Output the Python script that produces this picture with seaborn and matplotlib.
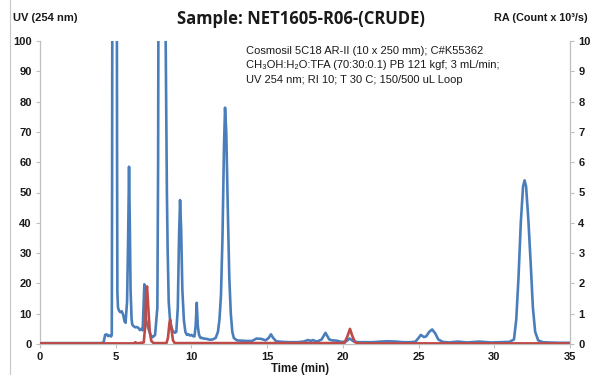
import numpy as np
import pandas as pd
import seaborn as sns
import matplotlib
matplotlib.use("Agg")
import matplotlib.pyplot as plt
from matplotlib.lines import Line2D

# ---- data ----
uv_time = [0, 1, 2, 3, 4.0, 4.2, 4.3, 4.4, 4.5, 4.6, 4.7, 4.74, 4.76, 4.78, 4.93, 5.07, 5.09, 5.11,
           5.15, 5.22, 5.3, 5.4, 5.5, 5.58, 5.65, 5.75, 5.82, 5.88, 5.93, 5.98, 6.05, 6.1, 6.2, 6.3,
           6.4, 6.5, 6.6, 6.7, 6.78, 6.85, 6.89, 6.95, 7.0, 7.1, 7.2, 7.3, 7.4, 7.5, 7.6, 7.7, 7.75,
           7.8, 7.83, 8.0, 8.2, 8.3, 8.38, 8.43, 8.5, 8.6, 8.75, 8.9, 9.0, 9.1, 9.18, 9.25, 9.32, 9.4,
           9.5, 9.6, 9.7, 9.8, 9.9, 10.0, 10.1, 10.2, 10.28, 10.35, 10.42, 10.5, 10.6, 10.7, 10.8,
           11.0, 11.2, 11.4, 11.6, 11.75, 11.85, 11.95, 12.05, 12.15, 12.22, 12.3, 12.4, 12.5, 12.6,
           12.7, 12.8, 13.0, 13.3, 13.6, 14.0, 14.3, 14.6, 14.9, 15.1, 15.25, 15.4, 15.6, 16.0, 16.5,
           17.0, 17.4, 17.7, 17.9, 18.0, 18.3, 18.6, 18.85, 19.1, 19.3, 19.6, 19.9, 20.2, 20.45, 20.7,
           21.0, 21.5, 22.0, 22.5, 23.0, 23.5, 24.0, 24.5, 24.8, 25.0, 25.15, 25.35, 25.5, 25.7, 25.9,
           26.1, 26.3, 26.6, 27.0, 27.6, 28.2, 29.0, 29.8, 30.5, 31.0, 31.3, 31.45, 31.6, 31.75, 31.9,
           32.0, 32.1, 32.25, 32.4, 32.55, 32.7, 32.9, 33.2, 33.6, 34.2, 35.0]
uv_value = [0.3, 0.3, 0.3, 0.3, 0.3, 0.5, 3.0, 3.2, 2.6, 2.8, 2.5, 3.0, 50, 130, 250, 130, 60, 17,
            12, 11, 10.5, 10.8, 9.5, 7.5, 7.0, 14, 35, 58.5, 40, 18, 8, 6.3, 5.8, 5.5,
            5.6, 5.3, 4.6, 5.0, 4.5, 14, 19.7, 14, 8, 6, 4.5, 3, 2.2, 2.5, 3, 9, 12,
            60, 130, 250, 160, 100, 50, 31, 14, 7, 4.5, 3.7, 4, 12, 35, 47.5, 38, 18,
            8, 4, 3, 3.2, 2.8, 3.0, 2.6, 2.5, 6, 13.6, 6, 3, 2, 2, 1.8,
            1.7, 1.4, 1.5, 2, 4, 8, 16, 35, 65, 78, 70, 45, 22, 10,
            4, 2, 1.2, 1.1, 1.0, 1.0, 1.8, 1.7, 1.2, 2.0, 3.2, 2.0, 0.9, 0.7, 0.6,
            0.6, 0.8, 1.3, 1.0, 1.3, 0.8, 1.5, 3.7, 1.5, 1.2, 1.1, 0.7, 0.8, 1.8, 0.9,
            0.6, 0.6, 0.6, 0.8, 0.9, 0.8, 0.6, 0.6, 0.8, 2.0, 3.0, 2.3, 2.5, 4.0, 4.8,
            3.5, 1.5, 0.7, 0.5, 0.8, 0.5, 0.8, 0.5, 0.6, 0.7, 1.5, 8, 22, 40, 52,
            54, 52, 41, 27, 12, 4, 1.2, 0.6, 0.5, 0.4, 0.4]

ra_time = [0, 6.2, 6.3, 6.4, 6.85, 6.95, 7.02, 7.07, 7.15, 7.25, 7.35, 7.5, 8.35, 8.45, 8.55,
           8.6, 8.68, 8.78, 8.9, 20.1, 20.3, 20.47, 20.6, 20.8, 21.0, 35.0]
ra_value = [0.02, 0.02, 0.06, 0.02, 0.05, 0.6, 1.8, 1.9, 1.2, 0.4, 0.1, 0.03, 0.03, 0.2, 0.7,
            0.8, 0.5, 0.12, 0.03, 0.03, 0.25, 0.5, 0.3, 0.06, 0.02, 0.02]

x_ticks = [0, 5, 10, 15, 20, 25, 30, 35]
left_ticks = [0, 10, 20, 30, 40, 50, 60, 70, 80, 90, 100]
right_ticks = [0, 1, 2, 3, 4, 5, 6, 7, 8, 9, 10]

title = "Sample: NET1605-R06-(CRUDE)"
left_label = "UV (254 nm)"
right_label = "RA (Count x 10³/s)"
x_label = "Time (min)"
notes = ["Cosmosil 5C18 AR-II (10 x 250 mm); C#K55362",
         "CH₃OH:H₂O:TFA (70:30:0.1) PB 121 kgf; 3 mL/min;",
         "UV 254 nm; RI 10; T 30 C; 150/500 uL Loop"]

# ---- style ----
sns.set_style("white")
plt.rcParams["font.family"] = ["Liberation Sans", "DejaVu Sans"]

BLUE = "#4A7EBB"
RED = "#BE4B48"
GRAY = "#BFBFBF"
TXT = "#1a1a1a"

W, H = 594, 375
fig = plt.figure(figsize=(W / 100, H / 100), dpi=100)
ax = fig.add_axes([40 / W, 1 - 344 / H, 530 / W, 303 / H])

uv_df = pd.DataFrame({"time": uv_time, "value": uv_value})
ra_df = pd.DataFrame({"time": ra_time, "value": ra_value})

sns.lineplot(data=uv_df, x="time", y="value", ax=ax, color=BLUE, linewidth=1.9,
             sort=False, estimator=None)
ax.set_xlim(0, 35)
ax.set_ylim(0, 100)
ax.set_xticks(x_ticks)
ax.set_yticks(left_ticks)
ax.set_xlabel("")
ax.set_ylabel("")

ax2 = ax.twinx()
sns.lineplot(data=ra_df, x="time", y="value", ax=ax2, color=RED, linewidth=1.9,
             sort=False, estimator=None)
ax2.set_ylim(0, 10)
ax2.set_yticks(right_ticks)
ax2.set_ylabel("")
ax2.set_xlim(0, 35)

for a in (ax, ax2):
    for s in a.spines.values():
        s.set_color(GRAY)
        s.set_linewidth(0.9)
    a.spines["top"].set_visible(False)
    a.tick_params(length=3, width=0.8, color=GRAY, labelsize=8, labelcolor=TXT, pad=3)
    for lab in a.get_xticklabels() + a.get_yticklabels():
        lab.set_fontweight("bold")
ax.spines["right"].set_visible(False)
ax2.spines["left"].set_visible(False)
ax2.spines["bottom"].set_visible(False)
ax.tick_params(axis="x", bottom=True, direction="out")
ax.tick_params(axis="y", left=True, direction="out")
ax2.tick_params(axis="y", right=True, direction="out")

fig.text(301 / W, 1 - 19 / H, title, ha="center", va="center", fontsize=12,
         fontweight="bold", color=TXT, family=["Open Sans", "DejaVu Sans"])
fig.text(13 / W, 1 - 18 / H, left_label, ha="left", va="center", fontsize=8,
         fontweight="bold", color=TXT)
fig.text(588 / W, 1 - 18 / H, right_label, ha="right", va="center", fontsize=7.8,
         fontweight="bold", color=TXT)
fig.text(300 / W, 1 - 369 / H, x_label, ha="center", va="center", fontsize=8.3,
         fontweight="bold", color=TXT)
for i, line in enumerate(notes):
    fig.text(246 / W, 1 - (51 + i * 14.5) / H, line, ha="left", va="center",
             fontsize=8, color=TXT)

fig.add_artist(Line2D([10 / W, 10 / W], [0, 1], color="#C8C8C8", linewidth=0.8))

fig.savefig("out.png", dpi=100)
